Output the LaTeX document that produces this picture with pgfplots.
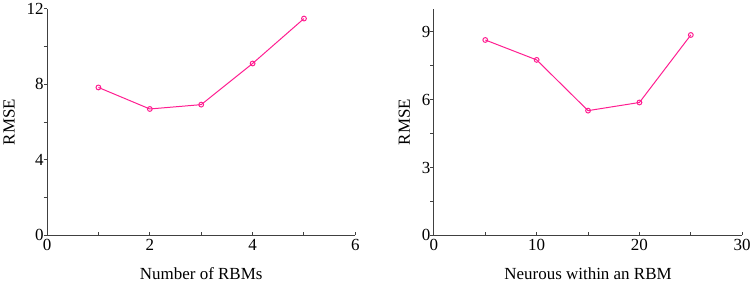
\documentclass[border=0pt]{standalone}
\usepackage{fontspec}
\setmainfont{Liberation Serif}
\usepackage{pgfplots}
\pgfplotsset{compat=1.18}
\definecolor{rmsepink}{RGB}{255,30,145}

\pgfplotsset{
  rmsestyle/.style={
    scale only axis,
    width=309pt, height=227pt,
    axis lines=left,
    axis line style={-, black!75, line width=1pt},
    tick align=inside,
    major tick length=3.5pt,
    minor tick length=3pt,
    tick style={black!75, line width=1pt},
    y tick style={xshift=-3.5pt},
    minor x tick num=1,
    minor y tick num=1,
    ymin=0,
    tick label style={font=\fontsize{17}{19}\selectfont},
    label style={font=\fontsize{17}{19}\selectfont},
    /pgf/number format/assume math mode=true,
    ylabel={RMSE},
    ylabel style={yshift=5pt},
    xlabel style={yshift=-10pt},
    clip=false,
  },
  rmseline/.style={
    color=rmsepink, line width=1pt,
    mark=o, mark size=2.4pt,
    mark options={fill=rmsepink!25, line width=1pt},
  },
}

\begin{document}
\begin{tikzpicture}
\begin{axis}[
  rmsestyle,
  at={(0pt,0pt)},
  xmin=0, xmax=6, xtick={0,2,4,6},
  ymax=12, ytick={0,4,8,12},
  xlabel={Number of RBMs},
]
\addplot+[rmseline] coordinates {
  (1,7.84) (2,6.70) (3,6.93) (4,9.11) (5,11.49)
};
\end{axis}

\begin{axis}[
  rmsestyle,
  at={(387.7pt,0pt)},
  xmin=0, xmax=30, xtick={0,10,20,30},
  ymax=10, ytick={0,3,6,9},
  xlabel={Neurous within an RBM},
]
\addplot+[rmseline] coordinates {
  (5,8.63) (10,7.75) (15,5.51) (20,5.87) (25,8.85)
};
\end{axis}
\end{tikzpicture}
\end{document}
